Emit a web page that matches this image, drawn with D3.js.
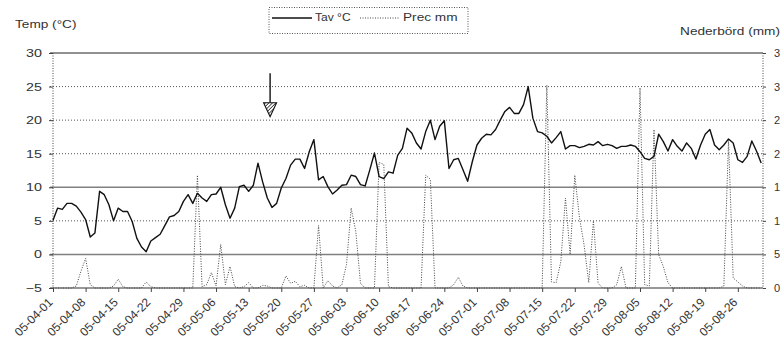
<!DOCTYPE html>
<html><head><meta charset="utf-8">
<script src="https://cdn.jsdelivr.net/npm/d3@7"></script>
<style>
body{margin:0;background:#fff;}
svg{display:block;}
text{font-family:"Liberation Sans",Arial,sans-serif;fill:#333;}
</style>
</head><body><svg id="c" width="783" height="360"></svg>
<script>
// ---- data ----
const startLabel = "05-04-01";
const tempTav = [
 5.1,6.9,6.7,7.6,7.6,7.2,6.3,5.2,2.6,3.2,
 9.4,8.9,7.4,5.0,6.9,6.4,6.4,4.9,2.4,1.1,
 0.4,2.0,2.5,3.0,4.3,5.6,5.8,6.4,7.9,8.9,
 7.6,9.1,8.4,7.9,8.9,9.0,10.0,7.4,5.4,6.9,
 10.1,10.3,9.4,10.3,13.6,10.8,8.4,7.0,7.6,9.9,
 11.3,13.3,14.2,14.2,12.8,15.3,17.1,11.1,11.6,10.1,
 9.0,9.6,10.3,10.4,11.8,11.6,10.4,10.2,12.6,15.1,
 11.6,11.3,12.3,12.1,14.8,15.8,18.8,18.1,16.6,15.7,
 18.3,20.0,17.1,19.1,19.9,12.8,14.1,14.3,12.6,10.9,
 13.8,16.3,17.3,17.9,17.8,18.6,20.0,21.3,21.9,21.0,
 21.0,22.3,25.0,20.3,18.3,18.1,17.6,16.6,17.4,18.3,
 15.7,16.2,16.2,15.9,16.1,16.4,16.3,16.8,16.2,16.4,
 16.2,15.8,16.1,16.1,16.3,16.1,15.3,14.3,14.1,14.6,
 17.9,16.8,15.4,17.1,16.1,15.4,16.6,15.8,14.2,16.3,
 17.9,18.6,16.3,15.6,16.3,17.2,16.6,14.1,13.7,14.6,
 16.9,15.4,13.6
];
const precMm = [
 0,0,0,0,0,0.3,2.5,4.4,0.5,0,
 0,0,0,0.3,1.3,0.2,0,0,0,0,
 0.9,0.2,0,0,0,0,0,0,0,0,
 0,16.8,0.2,0.5,2.3,0.3,6.5,0.5,3.2,0.2,
 0,0.2,0.8,0,0,0.4,0.3,0,0,0,
 1.8,0.7,1.0,0.2,0.4,0,0,9.3,0,1.1,
 0.3,0,0.5,3.5,11.9,8.4,0.7,0,0,0,
 18.7,18.4,0.2,0,0,0,0,0,0,0,
 16.8,16.2,0,0,0,0,0.5,1.6,0.3,0,
 0,0,0,0,0,0,0,0,0,0,
 0,0,0,0,0,0,30.2,0.9,0.8,3.9,
 13.4,5.0,16.8,10.5,6.4,0.8,10.0,0.7,0,0,
 0,0.5,3.2,0,0,0,29.8,0.5,0.3,23.6,
 5.0,3.2,0.8,0,0,0,0,0,0,0,
 0,0,0,0,0.3,22.0,1.5,0.9,0.3,0,
 0,0,0
];
const tempTicks = [-5,0,5,10,15,20,25,30];
const precTicks = [0,5,10,15,20,25,30,35];
// the reference shows the right-hand labels cut to their first character
const precTickLabels = ["0","5","1","1","2","2","3","3"];
const xTickLabels = ["05-04-01","05-04-08","05-04-15","05-04-22","05-04-29","05-05-06",
 "05-05-13","05-05-20","05-05-27","05-06-03","05-06-10","05-06-17","05-06-24","05-07-01",
 "05-07-08","05-07-15","05-07-22","05-07-29","05-08-05","05-08-12","05-08-19","05-08-26"];
const seriesNames = ["Tav °C","Prec mm"];
const leftTitle = "Temp (°C)";
const rightTitle = "Nederbörd (mm)";
const arrowDay = 46.6, arrowFrom = 27.0, arrowHead = 22.6, arrowTip = 20.5;

// ---- chart ----
const svg = d3.select("#c");
const FONT = "Liberation Sans, Arial, sans-serif";
const parse = d3.utcParse("%y-%m-%d");
const start = parse(startLabel);
const day = 864e5;
const dates = tempTav.map((_, i) => d3.utcDay.offset(start, i));
const L = 53, R = 763, T = 53, B = 288;
const x = d3.scaleUtc().domain([start, new Date(+start + 152.4 * day)]).range([L, R]);
const yT = d3.scaleLinear().domain([-5, 30]).range([B, T]);
const yP = d3.scaleLinear().domain([0, 35]).range([B, T]);
const SX = 1.3;

function stretch(sel, k) {
  sel.each(function () {
    const t = d3.select(this);
    const xx = +t.attr("x") || 0;
    t.attr("transform", `translate(${xx},0) scale(${k},1) translate(${-xx},0)`);
  });
}

// gridlines
const grid = svg.append("g");
tempTicks.forEach(v => {
  const ln = grid.append("line").attr("x1", L - 3).attr("x2", R).attr("y1", yT(v)).attr("y2", yT(v));
  if (v === 10 || v === 0) ln.attr("stroke", "#808080").attr("stroke-width", 1.6);
  else if (v === 30) ln.attr("stroke", "#222").attr("stroke-width", 1);
  else if (v === -5) ln.attr("stroke", "#333").attr("stroke-width", 1.2);
  else ln.attr("stroke", "#555").attr("stroke-width", 1).attr("stroke-dasharray", "1,2");
});
[L, R].forEach(xx => grid.append("line").attr("x1", xx).attr("x2", xx).attr("y1", T).attr("y2", B)
  .attr("stroke", "#444").attr("stroke-dasharray", "1,1.5"));

// left axis
const ax = svg.append("g").attr("transform", `translate(${L},0)`)
  .call(d3.axisLeft(yT).tickValues(tempTicks).tickSize(4).tickPadding(7));
ax.select(".domain").remove();
ax.selectAll("line").attr("stroke", "#444");
ax.selectAll("text").attr("font-size", 11).attr("font-family", FONT).attr("fill", "#333");
stretch(ax.selectAll("text"), SX);

// right axis
const ar = svg.append("g").attr("transform", `translate(${R},0)`)
  .call(d3.axisRight(yP).tickValues(precTicks).tickSize(3).tickPadding(8)
    .tickFormat((d, i) => precTickLabels[i]));
ar.select(".domain").remove();
ar.selectAll("line").attr("stroke", "#444");
ar.selectAll("text").attr("font-size", 11).attr("font-family", FONT).attr("fill", "#333");

// bottom axis
const xTicks = xTickLabels.map(s => parse(s));
const ab = svg.append("g").attr("transform", `translate(0,${B})`)
  .call(d3.axisBottom(x).tickValues(xTicks).tickSize(4).tickFormat((d, i) => xTickLabels[i]));
ab.select(".domain").remove();
ab.selectAll("line").attr("stroke", "#444");
ab.selectAll("text").attr("font-size", 12).attr("font-family", FONT).attr("fill", "#333")
  .attr("text-anchor", "end").attr("x", 0).attr("y", 0).attr("dy", 0)
  .attr("transform", "translate(0,15) rotate(-45)");

// precipitation line
svg.append("path").datum(precMm)
  .attr("fill", "none").attr("stroke", "#444").attr("stroke-width", 1).attr("stroke-dasharray", "1,1.5")
  .attr("d", d3.line().x((d, i) => x(dates[i])).y(d => yP(d)));

// temperature line
svg.append("path").datum(tempTav)
  .attr("fill", "none").attr("stroke", "#111").attr("stroke-width", 1.4).attr("stroke-linejoin", "round")
  .attr("d", d3.line().x((d, i) => x(dates[i])).y(d => yT(d)));

// arrow
const ax0 = x(new Date(+start + arrowDay * day));
const defs = svg.append("defs");
const pat = defs.append("pattern").attr("id", "hatch").attr("patternUnits", "userSpaceOnUse")
  .attr("width", 2.5).attr("height", 2.5).attr("patternTransform", "rotate(45)");
pat.append("rect").attr("width", 2.5).attr("height", 2.5).attr("fill", "#fff");
pat.append("line").attr("x1", 0).attr("y1", 0).attr("x2", 0).attr("y2", 2.5).attr("stroke", "#111").attr("stroke-width", 1.4);
svg.append("line").attr("x1", ax0).attr("x2", ax0).attr("y1", yT(arrowFrom)).attr("y2", yT(arrowHead))
  .attr("stroke", "#111").attr("stroke-width", 1.4);
svg.append("path")
  .attr("d", `M${ax0 - 6.5},${yT(arrowHead)} L${ax0 + 6.5},${yT(arrowHead)} L${ax0},${yT(arrowTip)} Z`)
  .attr("fill", "url(#hatch)").attr("stroke", "#111").attr("stroke-width", 1.1);

// titles
const t1 = svg.append("text").attr("x", 15).attr("y", 28).attr("font-size", 10.5).text(leftTitle);
stretch(t1, SX);
const t2 = svg.append("text").attr("x", 780).attr("y", 35.5).attr("font-size", 10.5).attr("text-anchor", "end").text(rightTitle);
stretch(t2, SX);

// legend
const lg = svg.append("g");
lg.append("rect").attr("x", 269).attr("y", 7.5).attr("width", 199).attr("height", 26)
  .attr("fill", "#fff").attr("stroke", "#555").attr("stroke-dasharray", "1,1.5");
lg.append("line").attr("x1", 272).attr("x2", 312).attr("y1", 18).attr("y2", 18).attr("stroke", "#111").attr("stroke-width", 1.4);
const lt1 = lg.append("text").attr("x", 315).attr("y", 21.5).attr("font-size", 10.5).text(seriesNames[0]);
stretch(lt1, 1.15);
lg.append("line").attr("x1", 360).attr("x2", 400).attr("y1", 18).attr("y2", 18).attr("stroke", "#444").attr("stroke-dasharray", "1,1.5");
const lt2 = lg.append("text").attr("x", 403).attr("y", 21.5).attr("font-size", 10.5).text(seriesNames[1]);
stretch(lt2, 1.3);
</script>
</body></html>
